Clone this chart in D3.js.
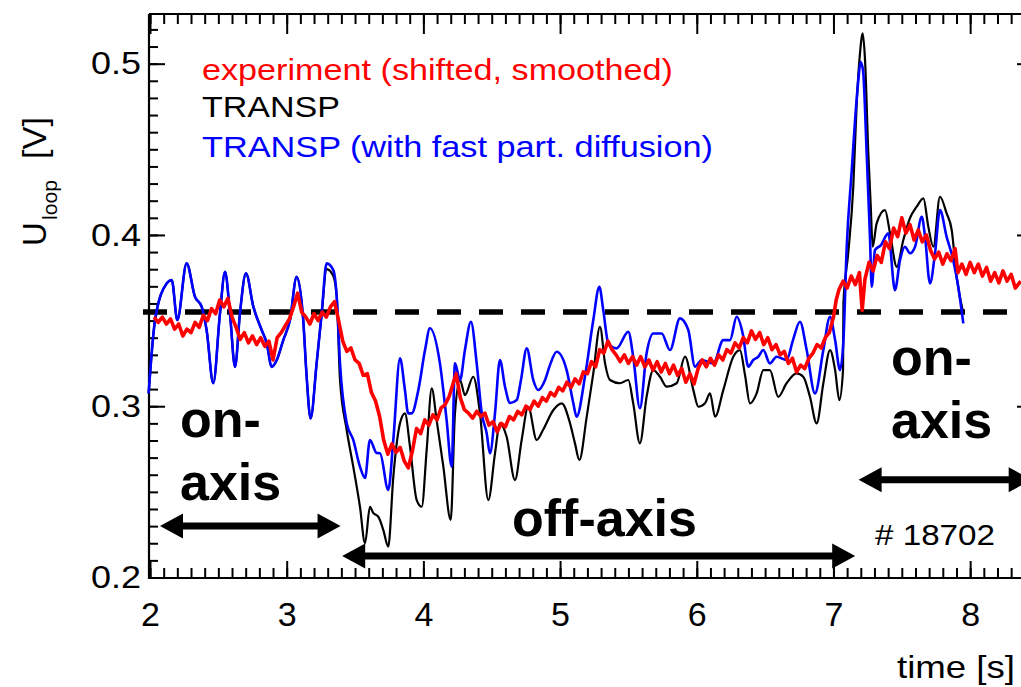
<!DOCTYPE html>
<html><head><meta charset="utf-8">
<script src="https://cdn.jsdelivr.net/npm/d3@7/dist/d3.min.js"></script>
<style>body{margin:0;background:#fff}svg{display:block}text{font-family:"Liberation Sans",Arial,Helvetica,sans-serif}</style>
</head><body><svg id="c" width="1021" height="687"></svg>
<script>
// ---- data: [time (s), U_loop (V)] ----
const experiment = [[2.03,.352],[2.06,.349],[2.09,.352],[2.12,.348],[2.15,.351],[2.18,.345],[2.21,.348],[2.24,.341],[2.27,.345],[2.30,.343],[2.33,.349],[2.36,.346],[2.39,.353],[2.42,.350],[2.45,.357],[2.48,.354],[2.51,.362],[2.54,.358],[2.57,.363],[2.60,.352],[2.63,.346],[2.66,.339],[2.69,.343],[2.72,.337],[2.75,.341],[2.78,.336],[2.81,.340],[2.84,.335],[2.87,.338],[2.90,.327],[2.93,.340],[2.96,.343],[2.99,.347],[3.02,.351],[3.05,.358],[3.08,.366],[3.11,.355],[3.14,.352],[3.17,.348],[3.20,.354],[3.23,.350],[3.26,.355],[3.29,.352],[3.32,.358],[3.35,.361],[3.38,.350],[3.41,.338],[3.44,.332],[3.47,.334],[3.50,.327],[3.53,.325],[3.56,.318],[3.59,.319],[3.62,.308],[3.65,.303],[3.68,.294],[3.71,.280],[3.74,.272],[3.77,.278],[3.80,.273],[3.83,.276],[3.86,.268],[3.89,.264],[3.92,.274],[3.95,.287],[3.98,.284],[4.01,.292],[4.04,.289],[4.07,.295],[4.10,.292],[4.13,.299],[4.16,.301],[4.19,.306],[4.22,.314],[4.24,.319],[4.27,.305],[4.30,.298],[4.33,.296],[4.36,.293],[4.39,.297],[4.42,.294],[4.45,.296],[4.48,.289],[4.51,.291],[4.54,.285],[4.57,.290],[4.60,.288],[4.63,.294],[4.66,.292],[4.69,.297],[4.72,.295],[4.75,.300],[4.78,.298],[4.81,.303],[4.84,.300],[4.87,.305],[4.90,.303],[4.93,.308],[4.96,.306],[4.99,.311],[5.02,.309],[5.05,.314],[5.08,.311],[5.11,.316],[5.14,.313],[5.17,.320],[5.20,.319],[5.23,.326],[5.26,.323],[5.29,.333],[5.32,.331],[5.35,.338],[5.38,.333],[5.41,.330],[5.44,.326],[5.47,.330],[5.50,.325],[5.53,.329],[5.56,.324],[5.59,.329],[5.62,.323],[5.65,.327],[5.68,.321],[5.71,.326],[5.74,.320],[5.77,.325],[5.80,.319],[5.83,.324],[5.86,.318],[5.89,.322],[5.92,.314],[5.95,.319],[5.98,.313],[6.01,.322],[6.04,.327],[6.07,.323],[6.10,.328],[6.13,.324],[6.16,.330],[6.19,.327],[6.22,.333],[6.25,.331],[6.28,.337],[6.31,.334],[6.34,.340],[6.37,.337],[6.40,.344],[6.43,.339],[6.46,.343],[6.49,.336],[6.52,.340],[6.55,.333],[6.58,.336],[6.61,.330],[6.64,.332],[6.67,.325],[6.70,.328],[6.73,.320],[6.76,.324],[6.79,.322],[6.82,.328],[6.85,.331],[6.88,.336],[6.91,.334],[6.94,.340],[6.97,.343],[7.00,.352],[7.02,.362],[7.04,.368],[7.07,.373],[7.10,.369],[7.13,.376],[7.16,.371],[7.19,.378],[7.21,.356],[7.23,.374],[7.26,.384],[7.29,.379],[7.32,.388],[7.35,.384],[7.38,.396],[7.41,.392],[7.44,.404],[7.47,.399],[7.50,.410],[7.53,.401],[7.56,.406],[7.59,.397],[7.62,.403],[7.65,.396],[7.68,.400],[7.71,.391],[7.74,.386],[7.77,.390],[7.80,.383],[7.83,.389],[7.86,.385],[7.89,.392],[7.91,.378],[7.94,.383],[7.97,.377],[8.00,.384],[8.03,.378],[8.06,.383],[8.09,.376],[8.12,.381],[8.15,.373],[8.18,.378],[8.21,.372],[8.24,.379],[8.27,.373],[8.30,.377],[8.33,.369],[8.37,.373]];

const transp = [[1.99,.3075],[2.037,.3503],[2.122,.3717],[2.159,.3737],[2.2,.3503],[2.268,.3834],[2.329,.3639],[2.378,.3581],[2.414,.3445],[2.463,.3134],[2.512,.3542],[2.549,.3785],[2.585,.3542],[2.622,.323],[2.658,.3542],[2.702,.3776],[2.756,.3581],[2.817,.3445],[2.854,.3367],[2.89,.323],[2.927,.3269],[2.975,.3386],[3.024,.3503],[3.073,.3756],[3.121,.3503],[3.146,.3172],[3.175,.2929],[3.219,.325],[3.256,.3542],[3.292,.380],[3.341,.376],[3.366,.3639],[3.39,.3153],[3.439,.2861],[3.487,.2647],[3.536,.2413],[3.573,.22],[3.609,.2413],[3.633,.2377],[3.67,.2355],[3.707,.2277],[3.743,.218],[3.78,.2588],[3.829,.29],[3.865,.2958],[3.902,.2764],[3.951,.2452],[3.988,.2413],[4.024,.2744],[4.061,.3104],[4.097,.2919],[4.146,.2647],[4.2,.2336],[4.231,.2958],[4.268,.3153],[4.304,.3065],[4.365,.3172],[4.414,.2958],[4.475,.2452],[4.524,.2725],[4.56,.29],[4.609,.2822],[4.67,.2569],[4.719,.2803],[4.767,.2997],[4.829,.2803],[4.875,.2861],[4.951,.2978],[5.012,.3017],[5.073,.29],[5.109,.2783],[5.141,.2686],[5.195,.2939],[5.243,.3192],[5.292,.3464],[5.329,.325],[5.365,.3153],[5.438,.3134],[5.499,.3153],[5.535,.3017],[5.584,.2783],[5.633,.3055],[5.682,.3211],[5.731,.3172],[5.78,.3114],[5.853,.3134],[5.914,.3289],[5.975,.3094],[6.012,.2997],[6.06,.3017],[6.097,.3075],[6.134,.2939],[6.194,.3094],[6.267,.3289],[6.316,.3328],[6.353,.3182],[6.389,.3017],[6.438,.3075],[6.487,.3211],[6.535,.3211],[6.596,.3055],[6.657,.3134],[6.73,.3192],[6.779,.3172],[6.828,.3055],[6.877,.29],[6.926,.3134],[6.975,.3328],[7.012,.3211],[7.043,.3036],[7.07,.3211],[7.073,.3602],[7.108,.3893],[7.145,.4281],[7.17,.4768],[7.194,.506],[7.214,.5177],[7.231,.5021],[7.255,.4476],[7.272,.4184],[7.287,.3931],[7.316,.4068],[7.377,.4145],[7.414,.4009],[7.463,.3814],[7.511,.397],[7.56,.4099],[7.609,.4165],[7.658,.4214],[7.694,.4048],[7.731,.3931],[7.779,.4223],[7.828,.4126],[7.865,.4029],[7.901,.3756],[7.95,.3542]];

const transpDiffusion = [[1.99,.3075],[2.037,.3503],[2.122,.3717],[2.159,.3737],[2.2,.3503],[2.268,.3834],[2.329,.3639],[2.378,.3581],[2.414,.3445],[2.463,.3134],[2.512,.3542],[2.549,.3785],[2.585,.3542],[2.622,.323],[2.658,.3542],[2.702,.3776],[2.756,.3581],[2.817,.3445],[2.854,.3367],[2.89,.323],[2.927,.3269],[2.975,.3386],[3.024,.3503],[3.073,.3756],[3.121,.3503],[3.146,.3172],[3.175,.2929],[3.219,.325],[3.256,.3542],[3.292,.3834],[3.341,.3795],[3.366,.3639],[3.39,.325],[3.439,.2902],[3.487,.2803],[3.536,.2647],[3.573,.2581],[3.609,.2803],[3.658,.2727],[3.683,.2725],[3.743,.2511],[3.78,.2803],[3.829,.328],[3.865,.3094],[3.889,.2958],[3.914,.2958],[3.963,.3094],[4.012,.3328],[4.048,.3455],[4.121,.325],[4.17,.2919],[4.207,.2647],[4.231,.325],[4.268,.3153],[4.304,.3328],[4.348,.3493],[4.39,.325],[4.427,.296],[4.463,.2842],[4.487,.2725],[4.524,.296],[4.56,.327],[4.597,.3114],[4.634,.3019],[4.683,.3036],[4.714,.3153],[4.756,.3338],[4.804,.3153],[4.841,.3095],[4.89,.3153],[4.926,.324],[4.975,.3318],[5.048,.3211],[5.097,.3017],[5.121,.2939],[5.182,.3172],[5.243,.3503],[5.287,.3697],[5.316,.3561],[5.353,.3367],[5.414,.3338],[5.499,.3435],[5.535,.3289],[5.584,.2988],[5.633,.3309],[5.682,.3425],[5.743,.3425],[5.804,.3328],[5.877,.3513],[5.938,.3445],[5.987,.3231],[6.036,.327],[6.121,.325],[6.194,.3386],[6.243,.3386],[6.292,.3522],[6.338,.3417],[6.377,.3231],[6.413,.327],[6.45,.3289],[6.487,.3328],[6.535,.325],[6.584,.3289],[6.657,.327],[6.704,.3386],[6.755,.3493],[6.804,.3328],[6.865,.3075],[6.926,.3328],[6.975,.3522],[7.012,.3386],[7.048,.3211],[7.073,.3386],[7.097,.3931],[7.134,.4379],[7.158,.4671],[7.182,.4904],[7.198,.5009],[7.216,.4963],[7.243,.4476],[7.267,.3989],[7.28,.3698],[7.304,.3912],[7.348,.3941],[7.401,.4009],[7.45,.3678],[7.487,.3853],[7.523,.3931],[7.56,.3893],[7.597,.3931],[7.646,.4106],[7.67,.3989],[7.706,.3717],[7.743,.3893],[7.779,.4145],[7.828,.3989],[7.876,.3853],[7.913,.3698],[7.95,.3484]];

const xTicks = [2,3,4,5,6,7,8];
const yTicks = [0.2,0.3,0.4,0.5];
const referenceLevel = 0.355;
const legendLabels = ["experiment (shifted, smoothed)", "TRANSP", "TRANSP (with fast part. diffusion)"];
const seriesColors = ["#ff0000", "#000000", "#0000ff"];
const phases = [
  {lines:["on-","axis"], from:2.073, to:3.394, level:0.2301},
  {lines:["off-axis"], from:3.406, to:7.159, level:0.2126},
  {lines:["on-","axis"], from:7.184, to:8.45, level:0.2571}
];
const shotLabel = "# 18702";

// ---- layout ----
const svg = d3.select("#c");
const x = d3.scaleLinear().domain([2, 8.372]).range([150, 1021]);
const y = d3.scaleLinear().domain([0.2, 0.529]).range([577.5, 14]);
const X0 = 149, X1 = 1021, Y0 = 578, Y1 = 14;

function styleAxis(g){ g.select(".domain").remove(); g.selectAll("line").attr("stroke","#000").attr("stroke-width",2); }
const minorX = d3.range(20, 84).map(d => d/10);
const minorY = d3.range(20, 53).map(d => d/100);

svg.append("g").attr("transform",`translate(0,${Y0})`)
  .call(d3.axisBottom(x).tickValues(minorX).tickSizeInner(-10).tickSizeOuter(0).tickFormat("")).call(styleAxis);
const bx = svg.append("g").attr("transform",`translate(0,${Y0})`)
  .call(d3.axisBottom(x).tickValues(xTicks).tickSizeInner(-17).tickSizeOuter(0).tickPadding(24).tickFormat(d3.format("d"))).call(styleAxis);
bx.selectAll("text").attr("font-size",34).attr("fill","#000").attr("font-family","Liberation Sans, Arial, sans-serif");

svg.append("g").attr("transform",`translate(0,${Y1})`)
  .call(d3.axisTop(x).tickValues(minorX).tickSizeInner(-10).tickSizeOuter(0).tickFormat("")).call(styleAxis);
svg.append("g").attr("transform",`translate(0,${Y1})`)
  .call(d3.axisTop(x).tickValues(xTicks).tickSizeInner(-20).tickSizeOuter(0).tickFormat("")).call(styleAxis);

svg.append("g").attr("transform",`translate(${X0},0)`)
  .call(d3.axisLeft(y).tickValues(minorY).tickSizeInner(-9).tickSizeOuter(0).tickFormat("")).call(styleAxis);
const ly = svg.append("g").attr("transform",`translate(${X0},0)`)
  .call(d3.axisLeft(y).tickValues(yTicks).tickSizeInner(-16).tickSizeOuter(0).tickPadding(8).tickFormat(d3.format(".1f"))).call(styleAxis);
ly.selectAll("text").attr("font-size",32).attr("fill","#000").attr("font-family","Liberation Sans, Arial, sans-serif")
  .attr("textLength",50).attr("lengthAdjust","spacingAndGlyphs");

svg.append("g").attr("transform",`translate(${X1},0)`)
  .call(d3.axisRight(y).tickValues([0.3,0.4,0.5]).tickSizeInner(-4).tickSizeOuter(0).tickFormat("")).call(styleAxis);

svg.append("path").attr("d",`M${X0},${Y1}V${Y0}H${X1}M${X0},${Y1}H${X1}`)
  .attr("fill","none").attr("stroke","#000").attr("stroke-width",2.2);

svg.append("line").attr("x1",143).attr("x2",1010).attr("y1",y(referenceLevel)).attr("y2",y(referenceLevel))
  .attr("stroke","#000").attr("stroke-width",5.5).attr("stroke-dasharray","24,18");

const smooth = d3.line().curve(d3.curveMonotoneX).x(d => x(d[0])).y(d => y(d[1]));
const raw = d3.line().x(d => x(d[0])).y(d => y(d[1]));
svg.append("path").datum(transp).attr("d",smooth).attr("fill","none").attr("stroke",seriesColors[1]).attr("stroke-width",2.2).attr("stroke-linejoin","round");
svg.append("path").datum(transpDiffusion).attr("d",smooth).attr("fill","none").attr("stroke",seriesColors[2]).attr("stroke-width",2.6).attr("stroke-linejoin","round");
svg.append("path").datum(experiment).attr("d",raw).attr("fill","none").attr("stroke",seriesColors[0]).attr("stroke-width",3.6).attr("stroke-linejoin","round");

const legendPos = [{x:202,y:80,w:471},{x:202,y:117,w:138},{x:202,y:157,w:511}];
legendLabels.forEach((s,i) => {
  svg.append("text").attr("x",legendPos[i].x).attr("y",legendPos[i].y).attr("font-size",30)
    .attr("fill",seriesColors[i]).attr("textLength",legendPos[i].w).attr("lengthAdjust","spacingAndGlyphs").text(s);
});

const headL = 23, headH = 12.5;
phases.forEach(p => {
  const xa = x(p.from), xb = x(p.to), yy = y(p.level);
  svg.append("line").attr("x1",xa+headL-2).attr("x2",xb-headL+2).attr("y1",yy).attr("y2",yy)
    .attr("stroke","#000").attr("stroke-width",7);
  svg.append("path").attr("d",`M${xa},${yy}L${xa+headL},${yy-headH}L${xa+headL},${yy+headH}Z`).attr("fill","#000");
  svg.append("path").attr("d",`M${xb},${yy}L${xb-headL},${yy-headH}L${xb-headL},${yy+headH}Z`).attr("fill","#000");
});

const phaseText = [
  {x:180, y:[437,500]},
  {x:512, y:[536]},
  {x:891, y:[375,438]}
];
phases.forEach((p,i) => {
  p.lines.forEach((s,j) => {
    svg.append("text").attr("x",phaseText[i].x).attr("y",phaseText[i].y[j]).attr("font-size",52)
      .attr("font-weight","bold").attr("fill","#000").text(s);
  });
});

svg.append("text").attr("x",875).attr("y",545).attr("font-size",30).attr("fill","#000")
  .attr("textLength",120).attr("lengthAdjust","spacingAndGlyphs").text(shotLabel);

svg.append("text").attr("x",897).attr("y",678).attr("font-size",32).attr("fill","#000")
  .attr("textLength",118).attr("lengthAdjust","spacingAndGlyphs").text("time [s]");
svg.append("text").attr("transform","translate(46,246) rotate(-90)").attr("font-size",33).attr("fill","#000").text("U");
svg.append("text").attr("transform","translate(57,220) rotate(-90)").attr("font-size",20).attr("fill","#000")
  .attr("textLength",40).attr("lengthAdjust","spacingAndGlyphs").text("loop");
svg.append("text").attr("transform","translate(46,159) rotate(-90)").attr("font-size",33).attr("fill","#000")
  .attr("textLength",42).attr("lengthAdjust","spacingAndGlyphs").text("[V]");
</script></body></html>
